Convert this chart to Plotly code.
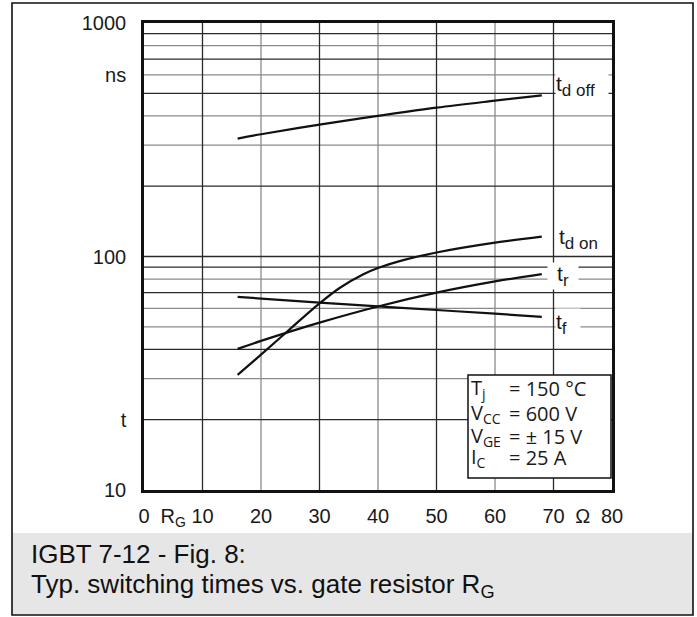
import plotly.graph_objects as go

# ---------------- data ----------------
rg_tdoff = [16, 20, 30, 40, 50, 60, 68]
t_doff = [320, 334, 367, 400, 434, 465, 490]

rg_tdon = [16, 20, 25, 30, 33.5, 37.5, 40, 44, 50, 60, 68]
t_don = [31.1, 38.0, 49.0, 63.0, 73.5, 84.0, 89.3, 96.0, 104.0, 114.6, 121.6]

rg_tr = [16, 20, 30, 40, 50, 60, 68]
t_r = [40.2, 43.5, 52.1, 61.1, 70.0, 78.2, 84.1]

rg_tf = [16, 30, 40, 50, 60, 68]
t_f = [67.1, 63.5, 61.2, 59.0, 56.9, 55.1]

x_tickvals = [0, 5, 10, 20, 30, 40, 50, 60, 70, 75, 80]
x_ticktext = ["0", "R<sub>G</sub>", "10", "20", "30", "40", "50", "60", "70", "Ω", "80"]
y_tickvals = [10, 20, 100, 600, 1000]
y_ticktext = ["10", "t", "100", "ns", "1000"]

x_grid_dark = [10, 30, 50, 70]
x_grid_gray = [20, 40, 60]
y_grid_dark = [20, 40, 70, 90, 100, 200, 500, 700, 900]
y_grid_gray = [30, 50, 60, 80, 300, 400, 600, 800]

cond_names = ["T<sub>j</sub>", "V<sub>CC</sub>", "V<sub>GE</sub>", "I<sub>C</sub>"]
cond_values = ["= 150 °C", "= 600 V", "= ± 15 V", "= 25 A"]

caption_lines = ["IGBT 7-12 - Fig. 8:", "Typ. switching times vs. gate resistor R<sub>G</sub>"]

# ---------------- layout helpers (pixel -> paper) ----------------
W, H = 697, 617
PL, PT, PR, PB = 144, 23, 612, 490
PW, PH = PR - PL, PB - PT


def px(x):
    return (x - PL) / PW


def py(y):
    return (PB - y) / PH


XR = [0, 80]
YR = [10, 1000]


def grid_trace(xs, ys, color):
    gx, gy = [], []
    for v in xs:
        gx += [v, v, None]
        gy += [YR[0], YR[1], None]
    for v in ys:
        gx += [XR[0], XR[1], None]
        gy += [v, v, None]
    return go.Scatter(x=gx, y=gy, mode="lines", line=dict(color=color, width=1.3),
                      hoverinfo="skip", showlegend=False)


fig = go.Figure()
fig.add_trace(grid_trace(x_grid_gray, y_grid_gray, "#8a8a8a"))
fig.add_trace(grid_trace(x_grid_dark, y_grid_dark, "#2a2a2a"))

for xs, ys in [(rg_tdoff, t_doff), (rg_tdon, t_don), (rg_tr, t_r), (rg_tf, t_f)]:
    fig.add_trace(go.Scatter(x=xs, y=ys, mode="lines",
                             line=dict(color="#111111", width=2.2, shape="spline", smoothing=1.0),
                             hoverinfo="skip", showlegend=False))

TF = dict(family="Liberation Sans, Arial, sans-serif", size=20, color="#1a1a1a")

axis_common = dict(showgrid=False, zeroline=False, showline=True, linewidth=2.6,
                   linecolor="#111111", mirror=True, ticks="", tickfont=TF)

fig.update_layout(
    width=W, height=H,
    margin=dict(l=PL, r=W - PR, t=PT, b=H - PB, pad=0),
    paper_bgcolor="white", plot_bgcolor="white",
    xaxis=dict(range=XR, tickmode="array", tickvals=x_tickvals, ticktext=x_ticktext,
               ticklabelstandoff=6, **axis_common),
    yaxis=dict(type="log", range=[1, 3], tickmode="array", tickvals=y_tickvals,
               ticktext=y_ticktext, ticklabelstandoff=11, **axis_common),
)

shapes = [
    dict(type="rect", xref="paper", yref="paper", x0=px(12), x1=px(693), y0=py(615), y1=py(533),
         fillcolor="#e6e6e6", line=dict(width=0), layer="below"),
    dict(type="rect", xref="paper", yref="paper", x0=px(12), x1=px(693), y0=py(615), y1=py(3),
         line=dict(color="#111111", width=1.6), fillcolor="rgba(0,0,0,0)", layer="above"),
    dict(type="rect", xref="paper", yref="paper", x0=px(468), x1=px(611), y0=py(478), y1=py(375),
         line=dict(color="#111111", width=1.5), fillcolor="white", layer="above"),
]
fig.update_layout(shapes=shapes)

ann = []
LF = dict(family="Liberation Sans, Arial, sans-serif", size=21, color="#1a1a1a")
SUB = '<sub><span style="font-size:17px">{}</span></sub>'
curve_labels = [
    ("t" + SUB.format("d off"), 555, 86, 52, 30),
    ("t" + SUB.format("d on"), 558, 239, 48, 28),
    ("t" + SUB.format("r"), 547, 276, 30, 26),
    ("t" + SUB.format("f"), 555, 324, 24, 30),
]
label_pad = [0, 0, 5, 0]
for (text, x0, yc, w, h), pad in zip(curve_labels, label_pad):
    ann.append(dict(text=("\u00a0" * 0) + text, xref="paper", yref="paper", x=px(x0), y=py(yc),
                    xanchor="left", yanchor="middle", showarrow=False, font=LF,
                    bgcolor="white", borderpad=0, width=w, height=h,
                    align="center" if pad else "left"))

CF = dict(family="Open Sans, sans-serif", size=20, color="#1a1a1a")
cond_y = [388, 413, 436, 457]
for name, val, yc in zip(cond_names, cond_values, cond_y):
    ann.append(dict(text=name, xref="paper", yref="paper", x=px(469), y=py(yc),
                    xanchor="left", yanchor="middle", showarrow=False, font=CF))
    ann.append(dict(text=val, xref="paper", yref="paper", x=px(507), y=py(yc),
                    xanchor="left", yanchor="middle", showarrow=False, font=CF))

CAPF = dict(family="Liberation Sans, Arial, sans-serif", size=26, color="#111111")
for line, yc in zip(caption_lines, [554, 585]):
    ann.append(dict(text=line, xref="paper", yref="paper", x=px(29), y=py(yc),
                    xanchor="left", yanchor="middle", showarrow=False, font=CAPF))

fig.update_layout(annotations=ann)

fig.write_html("out.html")
